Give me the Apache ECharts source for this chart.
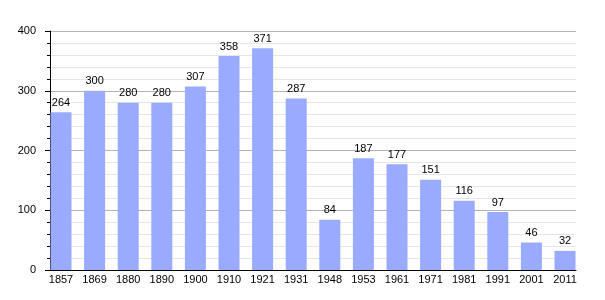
<!DOCTYPE html>
<html><head><meta charset="utf-8">
<script src="https://cdn.jsdelivr.net/npm/echarts@6/dist/echarts.min.js"></script>
<style>html,body{margin:0;padding:0;background:#fff}#c{width:605px;height:300px}</style>
</head><body><div id="c"></div>
<script>
const categories = ['1857','1869','1880','1890','1900','1910','1921','1931','1948','1953','1961','1971','1981','1991','2001','2011'];
const population = [264,300,280,280,307,358,371,287,84,187,177,151,116,97,46,32];
const yTicks = [0,100,200,300,400];

const chart = echarts.init(document.getElementById('c'), null, {renderer:'canvas'});
const font = 'Liberation Sans, Arial, sans-serif';
chart.setOption({
  animation:false,
  grid:[
    {left:50, right:29, top:31, bottom:30},
    {left:44.2, right:23.2, top:31, bottom:30}
  ],
  xAxis:[
    {type:'category', gridIndex:0, data:categories, boundaryGap:true,
     axisLine:{show:true, lineStyle:{color:'#000', width:1}}, axisTick:{show:false}, axisLabel:{show:false}, splitLine:{show:false}},
    {type:'category', gridIndex:1, data:categories,
     axisLine:{show:false}, axisTick:{show:false},
     axisLabel:{color:'#000', fontFamily:font, fontSize:11, margin:4, interval:0}}
  ],
  yAxis:[
    {type:'value', gridIndex:0, min:yTicks[0], max:yTicks[yTicks.length-1], interval:100,
     axisLine:{show:true, lineStyle:{color:'#000'}},
     axisTick:{show:true, length:5, lineStyle:{color:'#000'}},
     minorTick:{show:true, splitNumber:5, length:3, lineStyle:{color:'#000'}},
     minorSplitLine:{show:true, lineStyle:{color:'#e6e6e6', width:1}},
     splitLine:{show:true, lineStyle:{color:'#b4b4b4', width:1}},
     axisLabel:{color:'#000', fontFamily:font, fontSize:11, margin:14}},
    {type:'value', gridIndex:1, min:0, max:400, show:false, splitLine:{show:false}}
  ],
  series:[{
    type:'bar', xAxisIndex:1, yAxisIndex:1, data:population, barWidth:21,
    itemStyle:{color:'#9aabff'},
    label:{show:true, position:'top', distance:4, color:'#000', fontFamily:font, fontSize:11}
  }]
});
</script></body></html>
